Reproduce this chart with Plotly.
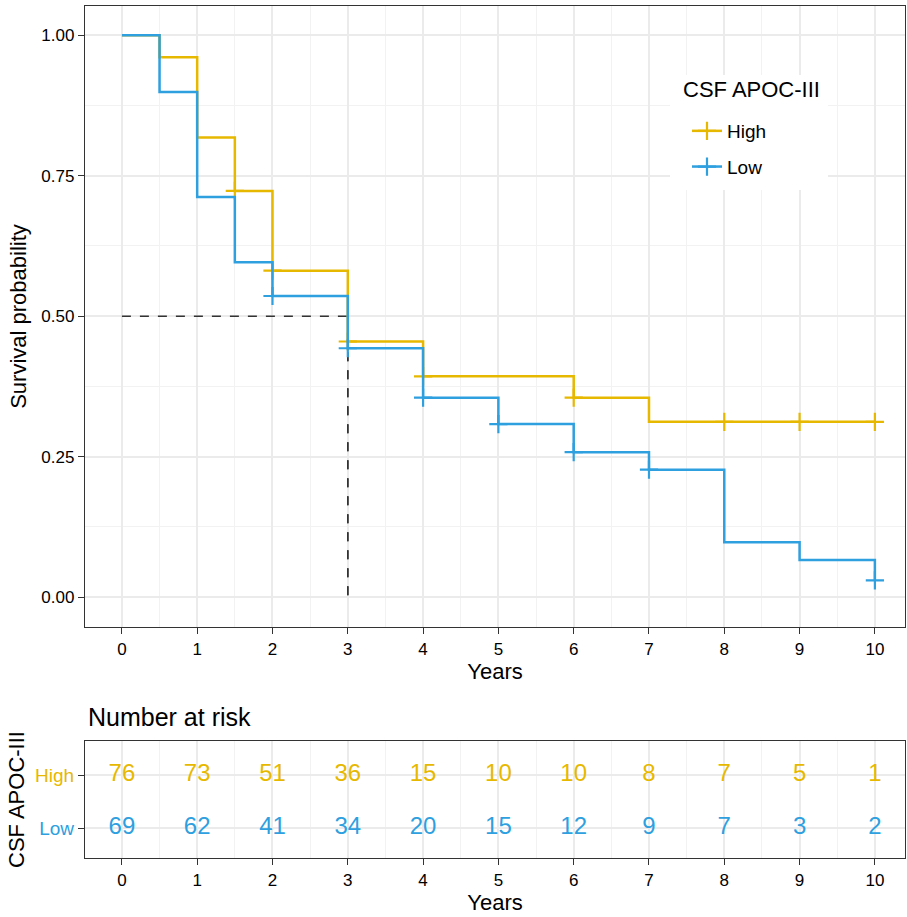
import plotly.graph_objects as go

# ---- data ----
groups = ["High", "Low"]
high_times = [0, 0.5, 1, 1.5, 2, 3, 4, 6, 7, 10]
high_surv = [1.0, 0.961, 0.818, 0.723, 0.581, 0.455, 0.393, 0.355, 0.312, 0.312]
high_censor = [1.5, 2, 3, 4, 6, 8, 9, 10]

low_times = [0, 0.5, 1, 1.5, 2, 3, 4, 5, 6, 7, 8, 9, 10]
low_surv = [1.0, 0.899, 0.712, 0.596, 0.536, 0.443, 0.355, 0.308, 0.258, 0.227, 0.098, 0.066, 0.030]
low_censor = [2, 3, 4, 5, 6, 7, 10]

risk_times = [0, 1, 2, 3, 4, 5, 6, 7, 8, 9, 10]
risk_high = [76, 73, 51, 36, 15, 10, 10, 8, 7, 5, 1]
risk_low = [69, 62, 41, 34, 20, 15, 12, 9, 7, 3, 2]

y_ticks = [0.0, 0.25, 0.5, 0.75, 1.0]
y_ticklabels = ["0.00", "0.25", "0.50", "0.75", "1.00"]

COL = {"High": "#E7B800", "Low": "#2E9FDF"}
FONT = "Liberation Sans, Arial, sans-serif"
W, H = 907, 917


def level_at(times, surv, t):
    v = surv[0]
    for ti, si in zip(times, surv):
        if ti <= t:
            v = si
    return v


def median_time(times, surv):
    for ti, si in zip(times, surv):
        if si <= 0.5:
            return ti
    return None


fig = go.Figure()

series = {
    "High": (high_times, high_surv, high_censor, risk_high, 2),
    "Low": (low_times, low_surv, low_censor, risk_low, 1),
}

# median lines
meds = [median_time(series[g][0], series[g][1]) for g in groups]
meds = [m for m in meds if m is not None]
mmax = max(meds)
fig.add_trace(go.Scatter(x=[0, mmax], y=[0.5, 0.5], mode="lines",
                         line=dict(color="#333333", width=1.5, dash="dash"),
                         showlegend=False, hoverinfo="skip", xaxis="x", yaxis="y"))
for m in meds:
    fig.add_trace(go.Scatter(x=[m, m], y=[0.5, 0], mode="lines",
                             line=dict(color="#333333", width=1.5, dash="dash"),
                             showlegend=False, hoverinfo="skip", xaxis="x", yaxis="y"))

for g in groups:
    t, s, c, r, ypos = series[g]
    fig.add_trace(go.Scatter(x=t, y=s, mode="lines", line=dict(color=COL[g], width=2.5, shape="hv"),
                             showlegend=False, xaxis="x", yaxis="y"))
    fig.add_trace(go.Scatter(x=c, y=[level_at(t, s, ci) for ci in c], mode="markers",
                             marker=dict(symbol="cross-thin", size=13, color=COL[g],
                                         line=dict(color=COL[g], width=2.2)),
                             showlegend=False, xaxis="x", yaxis="y"))
    # legend entry
    fig.add_trace(go.Scatter(x=[None], y=[None], mode="lines+markers", name=g, legendgroup=g,
                             line=dict(color=COL[g], width=2.5),
                             marker=dict(symbol="cross-thin", size=13, color=COL[g],
                                         line=dict(color=COL[g], width=2.2)),
                             xaxis="x", yaxis="y"))
    # risk table
    fig.add_trace(go.Scatter(x=risk_times, y=[ypos] * len(risk_times), mode="text",
                             text=[str(v) for v in r], textposition="middle center",
                             textfont=dict(family=FONT, size=24, color=COL[g]),
                             showlegend=False, xaxis="x2", yaxis="y2"))

xdom = [85 / W, 905 / W]
GRID = "#EBEBEB"
MINOR = "#F2F2F2"
ax_common = dict(
    showline=True, linecolor="#333333", linewidth=1.3, mirror=True,
    ticks="outside", ticklen=6, tickcolor="#333333", tickwidth=1.3,
    gridcolor=GRID, gridwidth=1.6, zeroline=False,
    tickfont=dict(family=FONT, size=17, color="#000000"),
)
minor_x = dict(dtick=0.5, tick0=0, showgrid=True, gridcolor=MINOR, gridwidth=1.3, ticks="")

fig.update_layout(
    width=W, height=H,
    margin=dict(l=0, r=0, t=0, b=0),
    paper_bgcolor="white", plot_bgcolor="white",
    font=dict(family=FONT, color="#000000"),
    xaxis=dict(domain=xdom, range=[-0.49, 10.4], dtick=1, tick0=0, anchor="y",
               minor=minor_x,
               title=dict(text="Years", font=dict(family=FONT, size=22), standoff=6),
               **ax_common),
    yaxis=dict(domain=[1 - 627 / H, 1 - 6 / H], range=[-0.053, 1.052], anchor="x",
               tickvals=y_ticks, ticktext=y_ticklabels,
               minor=dict(dtick=0.125, tick0=0, showgrid=True, gridcolor=MINOR, gridwidth=1.3, ticks=""),
               title=dict(text="Survival probability", font=dict(family=FONT, size=22), standoff=8),
               **ax_common),
    xaxis2=dict(domain=xdom, range=[-0.49, 10.4], dtick=1, tick0=0, anchor="y2",
                minor=minor_x,
                title=dict(text="Years", font=dict(family=FONT, size=22), standoff=4),
                **ax_common),
    yaxis2=dict(domain=[1 - 858 / H, 1 - 741 / H], range=[0.44, 2.65], anchor="x2",
                tickvals=[2, 1],
                ticktext=['<span style="color:%s">High</span>' % COL["High"],
                          '<span style="color:%s">Low</span>' % COL["Low"]],
                title=dict(text="CSF APOC-III", font=dict(family=FONT, size=22), standoff=4),
                **{k: v for k, v in ax_common.items() if k != "tickfont"},
                tickfont=dict(family=FONT, size=19)),
    legend=dict(x=687 / W, y=1 - 112 / H, xanchor="left", yanchor="top",
                bgcolor="rgba(255,255,255,0)", borderwidth=0,
                font=dict(family=FONT, size=19), tracegroupgap=8, itemwidth=30),
    shapes=[dict(type="rect", xref="paper", yref="paper", x0=670 / W, x1=828 / W,
                 y0=1 - 190 / H, y1=1 - 75 / H, fillcolor="white", line=dict(width=0), layer="above")],
    annotations=[
        dict(text="Number at risk", x=86 / W, y=1 - 717 / H, xref="paper", yref="paper",
             xanchor="left", yanchor="middle", showarrow=False,
             font=dict(family=FONT, size=25, color="#000000")),
        dict(text="CSF APOC-III", x=681 / W, y=1 - 90 / H, xref="paper", yref="paper",
             xanchor="left", yanchor="middle", showarrow=False,
             font=dict(family=FONT, size=22, color="#000000")),
    ],
)

fig.write_html("out.html")
